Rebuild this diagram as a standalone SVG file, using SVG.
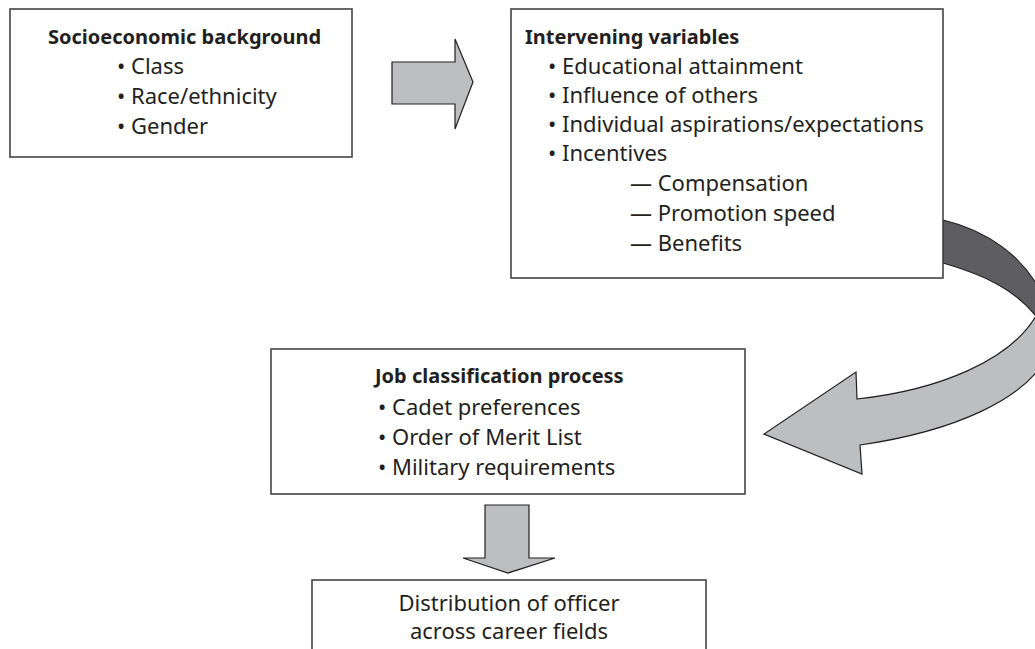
<svg xmlns="http://www.w3.org/2000/svg" width="1035" height="649" viewBox="0 0 1035 649">
<style>
.box{fill:#fff;stroke:#444;stroke-width:1.6}
.t{font-family:"Noto Sans","Open Sans","Liberation Sans",sans-serif;font-size:22px;fill:#231f20}
.b{font-weight:bold;font-size:20px}
.arr{fill:#bcbec0;stroke:#231f20;stroke-width:1.2;stroke-linejoin:miter}
.dark{fill:#5e5e60;stroke:#231f20;stroke-width:1.2}
</style>
<rect width="1035" height="649" fill="#fff"/>
<g id="connectors">
<path class="arr" d="M392,62 L455,62 L455,39 L473,82 L455,129 L455,104 L392,104 Z"/>
<path class="arr" d="M485,505 L529,505 L529,558 L555,558 L508,573 L463,558 L485,558 Z"/>
<path class="dark" d="M943,220 C985,230 1025,255 1045,300 L1036,316 C1015,290 985,275 943,263 Z"/>
<path class="arr" d="M1036,316 C1010,360 940,390 857,399 L856,372 L764,434 L862,474 L860,445 C950,432 1030,400 1050,350 L1045,300 Z"/>
</g>
<g id="node-socioeconomic">
<rect class="box" x="10" y="9" width="342" height="148"/>
<text class="t b" x="48" y="44">Socioeconomic background</text>
<text class="t" x="117" y="74">• Class</text>
<text class="t" x="117" y="104">• Race/ethnicity</text>
<text class="t" x="117" y="134">• Gender</text>
</g>
<g id="node-intervening">
<rect class="box" x="511" y="9" width="432" height="269"/>
<text class="t b" x="525" y="44">Intervening variables</text>
<text class="t" x="548" y="74">• Educational attainment</text>
<text class="t" x="548" y="103">• Influence of others</text>
<text class="t" x="548" y="132">• Individual aspirations/expectations</text>
<text class="t" x="548" y="161">• Incentives</text>
<text class="t" x="630" y="191">— Compensation</text>
<text class="t" x="630" y="221">— Promotion speed</text>
<text class="t" x="630" y="251">— Benefits</text>
</g>
<g id="node-job">
<rect class="box" x="271" y="349" width="474" height="145"/>
<text class="t b" x="375" y="383">Job classification process</text>
<text class="t" x="378" y="415">• Cadet preferences</text>
<text class="t" x="378" y="445">• Order of Merit List</text>
<text class="t" x="378" y="475">• Military requirements</text>
</g>
<g id="node-distribution">
<rect class="box" x="312" y="580" width="394" height="90"/>
<text class="t" x="509" y="611" text-anchor="middle">Distribution of officer</text>
<text class="t" x="509" y="639" text-anchor="middle">across career fields</text>
</g>
</svg>
